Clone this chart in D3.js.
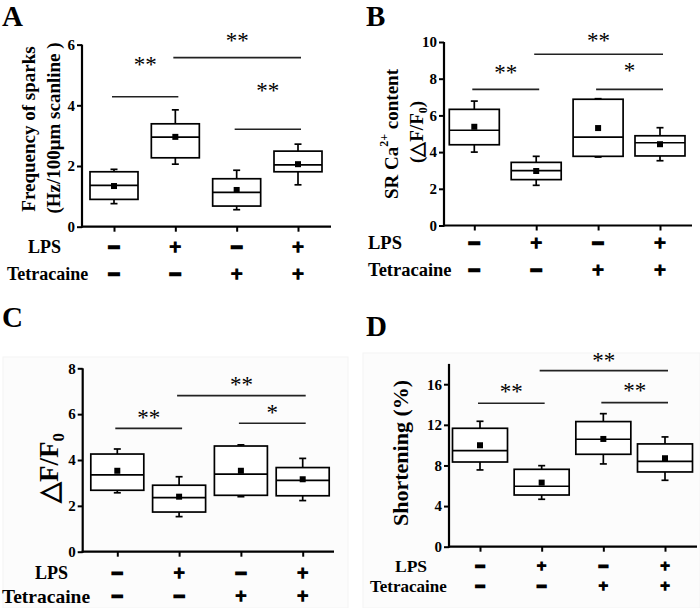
<!DOCTYPE html>
<html>
<head>
<meta charset="utf-8">
<script src="https://cdn.jsdelivr.net/npm/d3@7"></script>
<style>
  html, body { margin: 0; padding: 0; background: #fff; }
  svg { display: block; }
  text { font-family: "Liberation Serif", "Times New Roman", serif; fill: #000; }
</style>
</head>
<body>
<svg id="chart" width="700" height="608"></svg>
<script>
// ---------- DATA ----------
const categories = ["Control", "LPS", "Tetracaine", "LPS+Tetracaine"];
const lpsSigns = ["−", "+", "−", "+"];
const tetracaineSigns = ["−", "−", "+", "+"];

// box stats: [whisker low, Q1, median, Q3, whisker high]
const sparksBox = [[0.76, 0.90, 1.36, 1.81, 1.89], [2.06, 2.27, 2.95, 3.39, 3.85], [0.56, 0.68, 1.13, 1.58, 1.86], [1.38, 1.81, 2.04, 2.49, 2.72]];
const sparksMean = [1.34, 2.96, 1.21, 2.06];
const sparksTicks = [0, 2, 4, 6];
const sparksSig = [{from: 0, to: 1, y: 4.28, starY: 5.43, label: "**"}, {from: 1, to: 3, y: 5.57, starY: 6.22, label: "**"}, {from: 2, to: 3, y: 3.21, starY: 4.56, label: "**"}];

const srBox = [[4.00, 4.40, 5.19, 6.33, 6.78], [2.19, 2.50, 2.99, 3.44, 3.77], [3.73, 3.77, 4.82, 6.88, 6.91], [3.53, 3.79, 4.51, 4.89, 5.33]];
const srMean = [5.38, 2.97, 5.31, 4.43];
const srTicks = [0, 2, 4, 6, 8, 10];
const srSig = [{from: 0, to: 1, y: 7.42, starY: 8.47, label: "**"}, {from: 1, to: 3, y: 9.33, starY: 10.23, label: "**"}, {from: 2, to: 3, y: 7.42, starY: 8.58, label: "*"}];

const dffBox = [[2.57, 2.68, 3.35, 4.26, 4.48], [1.53, 1.73, 2.36, 2.90, 3.27], [2.40, 2.46, 3.38, 4.61, 4.66], [2.23, 2.44, 3.11, 3.67, 4.07]];
const dffMean = [3.53, 2.40, 3.53, 3.16];
const dffTicks = [0, 2, 4, 6, 8];
const dffSig = [{from: 0, to: 1, y: 5.38, starY: 5.96, label: "**"}, {from: 1, to: 3, y: 6.81, starY: 7.42, label: "**"}, {from: 2, to: 3, y: 5.60, starY: 6.18, label: "*"}];

const shortBox = [[7.56, 8.34, 9.46, 11.66, 12.35], [4.67, 5.09, 5.95, 7.62, 7.98], [8.15, 9.10, 10.58, 12.32, 13.10], [6.54, 7.36, 8.41, 10.12, 10.81]];
const shortMean = [9.99, 6.31, 10.61, 8.71];
const shortTicks = [0, 4, 8, 12, 16];
const shortSig = [{from: 0, to: 1, y: 14.13, starY: 15.54, label: "**"}, {from: 1, to: 3, y: 17.34, starY: 18.56, label: "**"}, {from: 2, to: 3, y: 14.19, starY: 15.61, label: "**"}];

// ---------- LAYOUT ----------
const panels = [
  { letter: "A", lx: 2, ly: 26, box: sparksBox, mean: sparksMean, ticks: sparksTicks, sig: sparksSig, ymax: 6,
    axisX: 82, xFirst: 114, xLast: 298, axisEnd: 331, y0: 226.7, yTop: 44.6, bw: 48, signFs: 21,
    rows: [{label: "LPS", x: 28, y: 247, fs: 18, signs: lpsSigns}, {label: "Tetracaine", x: 7, y: 274, fs: 18, signs: tetracaineSigns}],
    bg: null },
  { letter: "B", lx: 366, ly: 26, box: srBox, mean: srMean, ticks: srTicks, sig: srSig, ymax: 10,
    axisX: 444, xFirst: 474.3, xLast: 660, axisEnd: 692, y0: 225.5, yTop: 42, bw: 50, signFs: 21,
    rows: [{label: "LPS", x: 368, y: 243, fs: 18.5, signs: lpsSigns}, {label: "Tetracaine", x: 368, y: 270, fs: 18.5, signs: tetracaineSigns}],
    bg: null },
  { letter: "C", lx: 2, ly: 327, box: dffBox, mean: dffMean, ticks: dffTicks, sig: dffSig, ymax: 8,
    axisX: 82.7, xFirst: 117.3, xLast: 302.7, axisEnd: 334, y0: 551.7, yTop: 368.3, bw: 53, signFs: 20,
    rows: [{label: "LPS", x: 35, y: 573, fs: 18, signs: lpsSigns}, {label: "Tetracaine", x: 2, y: 596, fs: 19.5, signs: tetracaineSigns}],
    bg: [3, 357, 345, 251] },
  { letter: "D", lx: 366, ly: 336, box: shortBox, mean: shortMean, ticks: shortTicks, sig: shortSig, ymax: 18,
    axisX: 449, xFirst: 480, xLast: 665, axisEnd: 697, y0: 546.7, yTop: 363.9, bw: 55, signFs: 17,
    rows: [{label: "LPS", x: 395, y: 566, fs: 17.5, signs: lpsSigns}, {label: "Tetracaine", x: 370, y: 586, fs: 17, signs: tetracaineSigns}],
    bg: [363, 353, 337, 255] }
];

const svg = d3.select("#chart");

panels.forEach(p => {
  const g = svg.append("g");
  if (p.bg) {
    g.append("rect").attr("x", p.bg[0]).attr("y", p.bg[1]).attr("width", p.bg[2]).attr("height", p.bg[3])
      .attr("fill", "#fcfcfc").attr("stroke", "#f4f4f4");
  }
  const x = d3.scalePoint().domain(categories).range([p.xFirst, p.xLast]);
  const y = d3.scaleLinear().domain([0, p.ymax]).range([p.y0, p.yTop]);

  // panel letter
  g.append("text").attr("x", p.lx).attr("y", p.ly).attr("font-size", 29).attr("font-weight", "bold").text(p.letter);

  // y axis
  const yAxis = d3.axisLeft(y).tickValues(p.ticks).tickSize(5).tickPadding(2).tickFormat(d3.format("d"));
  const ya = g.append("g").attr("transform", `translate(${p.axisX},0)`).call(yAxis);
  ya.select(".domain").attr("stroke-width", 2.2).attr("d", `M0,${p.y0 + 1}V${y(p.ymax)}`);
  ya.selectAll(".tick line").attr("stroke-width", 2);
  ya.selectAll(".tick text").attr("font-family", "Liberation Serif").attr("font-size", 15).attr("font-weight", "bold");

  // x axis
  const xAxis = d3.axisBottom(x).tickSize(5).tickFormat("");
  const xa = g.append("g").attr("transform", `translate(0,${p.y0})`).call(xAxis);
  xa.select(".domain").attr("stroke-width", 2.2).attr("d", `M${p.axisX - 1},0H${p.axisEnd}`);
  xa.selectAll(".tick line").attr("stroke-width", 2);

  // boxes
  const cap = 7;
  categories.forEach((c, i) => {
    const [wl, q1, med, q3, wh] = p.box[i];
    const cx = x(c);
    const bg = g.append("g").attr("stroke", "#000").attr("stroke-width", 1.7).attr("fill", "none");
    bg.append("line").attr("x1", cx).attr("x2", cx).attr("y1", y(wh)).attr("y2", y(q3));
    bg.append("line").attr("x1", cx).attr("x2", cx).attr("y1", y(q1)).attr("y2", y(wl));
    bg.append("line").attr("x1", cx - cap / 2).attr("x2", cx + cap / 2).attr("y1", y(wh)).attr("y2", y(wh));
    bg.append("line").attr("x1", cx - cap / 2).attr("x2", cx + cap / 2).attr("y1", y(wl)).attr("y2", y(wl));
    bg.append("rect").attr("x", cx - p.bw / 2).attr("y", y(q3)).attr("width", p.bw).attr("height", y(q1) - y(q3)).attr("fill", "#fff");
    bg.append("line").attr("x1", cx - p.bw / 2).attr("x2", cx + p.bw / 2).attr("y1", y(med)).attr("y2", y(med));
    g.append("rect").attr("x", cx - 3).attr("y", y(p.mean[i]) - 3).attr("width", 6).attr("height", 6).attr("fill", "#000");
  });

  // significance bars
  p.sig.forEach(s => {
    const x1 = x(categories[s.from]) - 2, x2 = x(categories[s.to]) + 3;
    g.append("line").attr("x1", x1).attr("x2", x2).attr("y1", y(s.y)).attr("y2", y(s.y))
      .attr("stroke", "#222").attr("stroke-width", 1.6);
    g.append("text").attr("x", (x1 + x2) / 2).attr("y", y(s.starY) + 10)
      .attr("text-anchor", "middle").attr("font-size", 23).attr("fill", "#222")
      .attr("font-family", "Liberation Serif").text(s.label);
  });

  // condition rows
  p.rows.forEach(r => {
    g.append("text").attr("x", r.x).attr("y", r.y).attr("dominant-baseline", "central")
      .attr("font-size", r.fs).attr("font-weight", "bold").text(r.label);
    categories.forEach((c, i) => {
      g.append("text").attr("x", x(c)).attr("y", r.y).attr("dominant-baseline", "central")
        .attr("text-anchor", "middle").attr("font-size", p.signFs).attr("font-weight", "bold")
        .attr("stroke", "#000").attr("stroke-width", r.signs[i] === "−" ? 2.4 : 1.4)
        .text(r.signs[i]);
    });
  });
});

// ---------- Y AXIS TITLES ----------
function vtext(cx, cy, fs) {
  return svg.append("text").attr("transform", `translate(${cx},${cy}) rotate(-90)`)
    .attr("text-anchor", "middle").attr("dominant-baseline", "central")
    .attr("font-size", fs).attr("font-weight", "bold");
}
vtext(28, 129, 19).text("Frequency of sparks");
vtext(53, 128, 19).text("(Hz/100μm scanline )");

const b1 = vtext(391, 134, 19);
b1.append("tspan").text("SR Ca");
b1.append("tspan").attr("baseline-shift", "super").attr("font-size", 12).text("2+");
b1.append("tspan").text(" content");
const b2 = vtext(416, 132, 19);
b2.append("tspan").text("(△F/F");
b2.append("tspan").attr("baseline-shift", "sub").attr("font-size", 12).text("0");
b2.append("tspan").text(")");

const c1 = vtext(49, 468, 27);
c1.append("tspan").text("△F/F");
c1.append("tspan").attr("baseline-shift", "sub").attr("font-size", 17).text("0");

vtext(400, 453, 22).text("Shortening (%)");
</script>
</body>
</html>
